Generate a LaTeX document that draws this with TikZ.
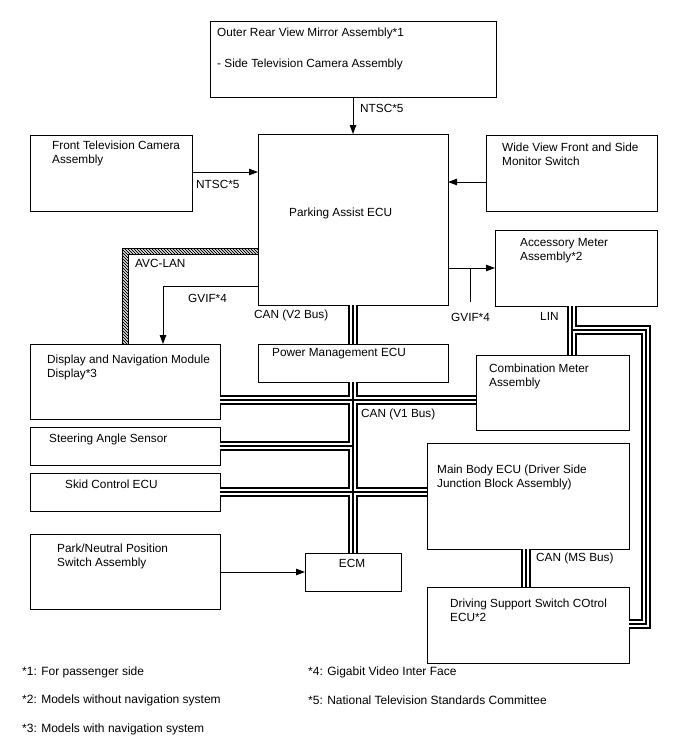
\documentclass[tikz,border=0pt]{standalone}
\usepackage{fontspec}
\setmainfont{Liberation Sans}
\usetikzlibrary{arrows.meta}
\begin{document}
\begin{tikzpicture}[x=1pt,y=-1pt,
  box/.style={draw, line width=0.9pt, anchor=north west, inner sep=0pt, outer sep=0pt},
  txt/.style={anchor=west, inner sep=0pt, align=left, font=\fontsize{11.8}{14}\selectfont},
  foot/.style={anchor=west, inner sep=0pt, font=\fontsize{12}{14}\selectfont},
  arr/.style={line width=0.9pt, -{Triangle[length=9pt,width=6.5pt]}},
  conn/.style={line width=0.9pt},
  busA/.style={line width=10pt, black, line join=miter},
  busB/.style={line width=6pt, white, line join=miter},
  busC/.style={line width=2.4pt, black, line join=miter},
]
\useasboundingbox (0,0) rectangle (688,755);
\fill[white] (0,0) rectangle (688,755);

% boxes
\node[box, minimum width=286pt, minimum height=76pt] (mirror) at (210,21) {};
\node[box, minimum width=190pt, minimum height=171pt] (pa) at (258,134) {};
\node[box, minimum width=162pt, minimum height=76pt] (front) at (30,135) {};
\node[box, minimum width=171pt, minimum height=76pt] (wide) at (486,135) {};
\node[box, minimum width=162pt, minimum height=76pt] (acc) at (495,230) {};
\node[box, minimum width=190pt, minimum height=75pt] (disp) at (30,344) {};
\node[box, minimum width=190pt, minimum height=38pt] (pm) at (258,344) {};
\node[box, minimum width=153pt, minimum height=75pt] (comb) at (476,355) {};
\node[box, minimum width=190pt, minimum height=38pt] (steer) at (30,427) {};
\node[box, minimum width=190pt, minimum height=38pt] (skid) at (30,473) {};
\node[box, minimum width=202pt, minimum height=106pt] (main) at (427,443) {};
\node[box, minimum width=190pt, minimum height=75pt] (park) at (30,534) {};
\node[box, minimum width=96pt, minimum height=38pt] (ecm) at (305,553) {};
\node[box, minimum width=202pt, minimum height=76pt] (drive) at (427,587) {};

% texts in boxes
\node[txt] (t1) at (217,33) {Outer Rear View Mirror Assembly*1};
\node[txt] (t2) at (217,64) {- Side Television Camera Assembly};
\node[txt] (t3) at (289,213) {Parking Assist ECU};
\node[txt, anchor=north west] (t4) at (52,141) {Front Television Camera\\Assembly};
\node[txt, anchor=north west] (t5) at (502,143) {Wide View Front and Side\\Monitor Switch};
\node[txt, anchor=north west] (t6) at (520,238) {Accessory Meter\\Assembly*2};
\node[txt, anchor=north west] (t7) at (47,355) {Display and Navigation Module\\Display*3};
\node[txt] (t8) at (272,354) {Power Management ECU};
\node[txt, anchor=north west] (t9) at (489,364) {Combination Meter\\Assembly};
\node[txt] (t10) at (49,439) {Steering Angle Sensor};
\node[txt] (t11) at (65,484) {Skid Control ECU};
\node[txt, anchor=north west] (t12) at (437,465) {Main Body ECU (Driver Side\\Junction Block Assembly)};
\node[txt, anchor=north west] (t13) at (57,544) {Park/Neutral Position\\Switch Assembly};
\node[txt, anchor=center] (t14) at (352,563) {ECM};
\node[txt, anchor=north west] (t15) at (450,599) {Driving Support Switch COtrol\\ECU*2};

% coordinates
\coordinate (x353) at (353,0);
\coordinate (x163) at (163,0);
\coordinate (x470) at (470,0);
\coordinate (x526) at (526,0);
\coordinate (x572) at (572,0);
\coordinate (y172) at (0,172);
\coordinate (y182) at (0,182);
\coordinate (y248) at (0,248);
\coordinate (y254) at (0,254);
\coordinate (y268) at (0,268);
\coordinate (y286) at (0,286);
\coordinate (y400) at (0,400);
\coordinate (y446) at (0,446);
\coordinate (y492) at (0,492);
\coordinate (y572) at (0,572);
\coordinate (y624) at (0,624);
\coordinate (gvl) at (163,286);
\coordinate (tick) at (470,302);
\coordinate (linj) at (572,330);
\coordinate (linc1) at (646,330);
\coordinate (linc2) at (646,624);
\coordinate (steerj) at (353,446);
\coordinate (avo) at (122,248);
\coordinate (avi) at (128,254);
\coordinate (x122) at (122,0);
\coordinate (x128) at (128,0);

% arrows
\draw[arr] (mirror.south -| x353) -- (pa.north -| x353);
\draw[arr] (front.east |- y172) -- (pa.west |- y172);
\draw[arr] (wide.west |- y182) -- (pa.east |- y182);
\draw[arr] (pa.east |- y268) -- (acc.west |- y268);
\draw[conn] (tick -| x470) -- (x470 |- y268);
\draw[arr] (pa.west |- y286) -- (gvl) -- (disp.north -| x163);
\draw[arr] (park.east |- y572) -- (ecm.west |- y572);

% AVC-LAN hatched band
\begin{scope}
  \clip (pa.west |- y248) -- (avo) -- (disp.north -| x122) -- (disp.north -| x128) -- (avi) -- (pa.west |- y254) -- cycle;
  \foreach \k in {-240,-237,...,150}{
    \draw[line width=0.75pt] (122+\k,240) -- (122+\k+110,350);
  }
\end{scope}
\draw[conn] (pa.west |- y248) -- (avo) -- (disp.north -| x122);
\draw[conn] (pa.west |- y254) -- (avi) -- (disp.north -| x128);

% buses (layered)
\foreach \st in {busA,busB,busC}{
  \draw[\st] (pa.south -| x353) -- (pm.north -| x353);
  \draw[\st] (pm.south -| x353) -- (ecm.north -| x353);
  \draw[\st] (disp.east |- y400) -- (comb.west |- y400);
  \draw[\st] (steer.east |- y446) -- (steerj);
  \draw[\st] (skid.east |- y492) -- (main.west |- y492);
  \draw[\st] (main.south -| x526) -- (drive.north -| x526);
  \draw[\st] (acc.south -| x572) -- (comb.north -| x572);
  \draw[\st] (linj) -- (linc1) -- (linc2) -- (drive.east |- y624);
}

% labels
\node[txt] (l1) at (360,108) {NTSC*5};
\node[txt] (l2) at (196,184) {NTSC*5};
\node[txt] (l3) at (135,263) {AVC-LAN};
\node[txt] (l4) at (188,298) {GVIF*4};
\node[txt] (l5) at (254,315) {CAN (V2 Bus)};
\node[txt] (l6) at (451,317) {GVIF*4};
\node[txt] (l7) at (540,316) {LIN};
\node[txt] (l8) at (361,414) {CAN (V1 Bus)};
\node[txt] (l9) at (536,558) {CAN (MS Bus)};

% footnotes
\node[foot] (f1) at (22,672) {*1: For passenger side};
\node[foot] (f2) at (22,700) {*2: Models without navigation system};
\node[foot] (f3) at (22,729) {*3: Models with navigation system};
\node[foot] (f4) at (308,672) {*4: Gigabit Video Inter Face};
\node[foot] (f5) at (308,700) {*5: National Television Standards Committee};
\end{tikzpicture}
\end{document}
